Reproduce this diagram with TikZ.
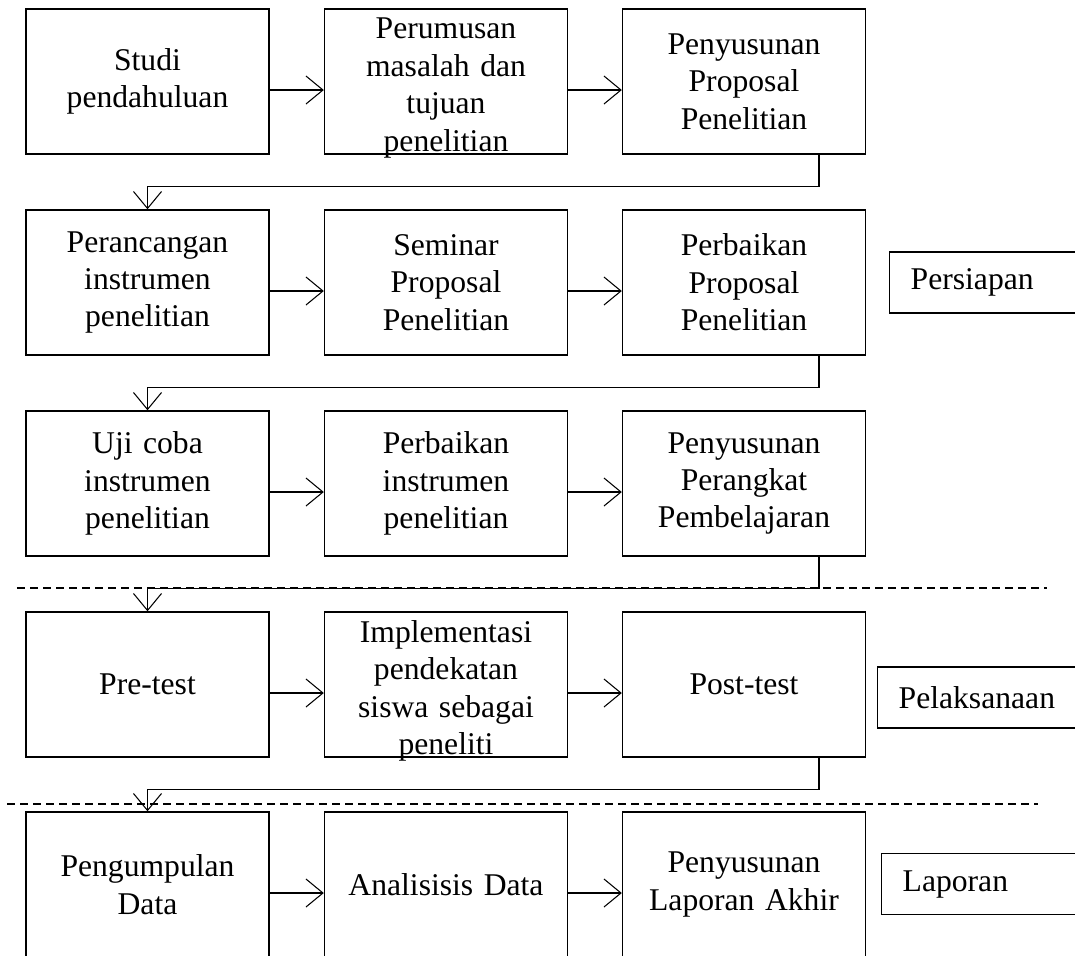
\documentclass[tikz,border=0pt]{standalone}
\usepackage{fontspec}
\setmainfont{Liberation Serif}
\usetikzlibrary{arrows.meta}

\begin{document}
\begin{tikzpicture}[
  >={Straight Barb[length=3.4mm,width=5.6mm]},
  box/.style={draw, line width=0.8pt, inner sep=0pt, minimum width=48.6mm, minimum height=29mm, text width=48.6mm, align=center, font=\fontsize{18}{21.3}\selectfont},
  boxtext/.style={inner sep=0pt, text width=48.6mm, align=center, font=\fontsize{18}{21.3}\selectfont},
  phase/.style={draw, line width=0.8pt, anchor=west, inner xsep=4.2mm, inner ysep=0pt, minimum height=12.2mm, text width=40mm, align=left, font=\fontsize{18}{21.3}\selectfont},
  arrow/.style={->, line width=0.6pt},
  sep/.style={dash pattern=on 1.6mm off 1mm, line width=0.6pt}
]
\useasboundingbox (0,0) rectangle (21.5,-19.1);
\fill[white] (0,0) rectangle (21.5,-19.1);
\clip (0,0) rectangle (21.5,-19.1);

% persiapan
\node[box] (studi) at (2.95,-1.63) {Studi\\pendahuluan};
\node[box] (rumus) at (8.92,-1.63) {};
\node[boxtext] (rumustext) at ([yshift=-1.3mm]rumus.center) {Perumusan\\masalah dan\\tujuan\\penelitian};
\node[box] (proposal) at (14.88,-1.63) {Penyusunan\\Proposal\\Penelitian};

\node[box] (rancang) at (2.95,-5.65) {Perancangan\\instrumen\\penelitian};
\node[box] (seminar) at (8.92,-5.65) {Seminar\\Proposal\\Penelitian};
\node[box] (perbaikan) at (14.88,-5.65) {Perbaikan\\Proposal\\Penelitian};

\node[box] (ujicoba) at (2.95,-9.67) {Uji coba\\instrumen\\penelitian};
\node[box] (revisi) at (8.92,-9.67) {Perbaikan\\instrumen\\penelitian};
\node[box] (perangkat) at (14.88,-9.67) {Penyusunan\\Perangkat\\Pembelajaran};

% pelaksanaan
\node[box] (pretest) at (2.95,-13.69) {Pre-test};
\node[box] (implementasi) at (8.92,-13.69) {};
\node[boxtext] (implementasitext) at ([yshift=-1.3mm]implementasi.center) {Implementasi\\pendekatan\\siswa sebagai\\peneliti};
\node[box] (posttest) at (14.88,-13.69) {Post-test};

% laporan
\node[box] (kumpul) at (2.95,-17.69) {Pengumpulan\\Data};
\node[box] (analisis) at (8.92,-17.69) {Analisisis Data};
\node[box] (akhir) at (14.88,-17.69) {Penyusunan\\Laporan Akhir};

\node[phase] (persiapan) at (17.78,-5.65) {Persiapan};
\node[phase] (pelaksanaan) at (17.54,-13.95) {Pelaksanaan};
\node[phase] (lapor) at (17.62,-17.68) {Laporan};

\draw[arrow] ([yshift=-1.7mm]studi.east) -- ([yshift=-1.7mm]rumus.west);
\draw[arrow] ([yshift=-1.7mm]rumus.east) -- ([yshift=-1.7mm]proposal.west);
\draw[arrow] ([xshift=15mm]proposal.south) -- ++(0,-0.64) -| (rancang.north);

\draw[arrow] ([yshift=-1.7mm]rancang.east) -- ([yshift=-1.7mm]seminar.west);
\draw[arrow] ([yshift=-1.7mm]seminar.east) -- ([yshift=-1.7mm]perbaikan.west);
\draw[arrow] ([xshift=15mm]perbaikan.south) -- ++(0,-0.64) -| (ujicoba.north);

\draw[arrow] ([yshift=-1.7mm]ujicoba.east) -- ([yshift=-1.7mm]revisi.west);
\draw[arrow] ([yshift=-1.7mm]revisi.east) -- ([yshift=-1.7mm]perangkat.west);
\draw[arrow] ([xshift=15mm]perangkat.south) -- ++(0,-0.63) -| (pretest.north);

\draw[arrow] ([yshift=-1.7mm]pretest.east) -- ([yshift=-1.7mm]implementasi.west);
\draw[arrow] ([yshift=-1.7mm]implementasi.east) -- ([yshift=-1.7mm]posttest.west);
\draw[arrow] ([xshift=15mm]posttest.south) -- ++(0,-0.63) -| (kumpul.north);

\draw[arrow] ([yshift=-1.7mm]kumpul.east) -- ([yshift=-1.7mm]analisis.west);
\draw[arrow] ([yshift=-1.7mm]analisis.east) -- ([yshift=-1.7mm]akhir.west);

% batas tahap
\draw[sep] (0.34,-11.76) -- (20.94,-11.76);
\draw[sep] (0.14,-16.08) -- (20.76,-16.08);

\end{tikzpicture}
\end{document}
